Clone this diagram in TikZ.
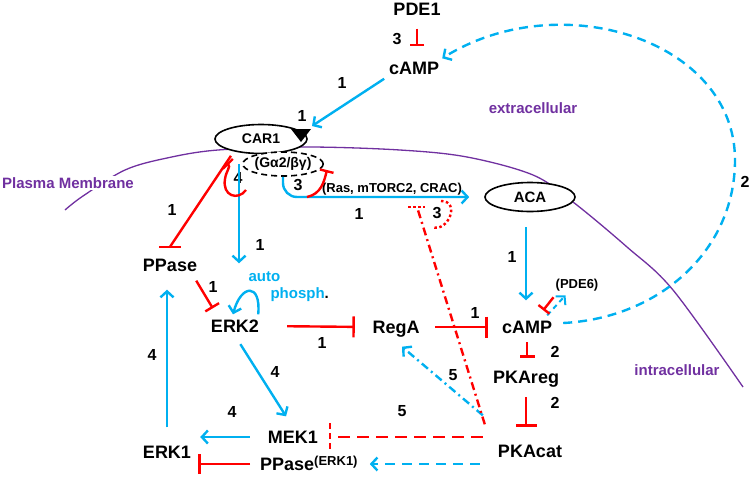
\documentclass[tikz,border=0pt]{standalone}
\usepackage{fontspec}
\setmainfont{Liberation Sans}
\usetikzlibrary{arrows.meta,shapes.geometric}

\definecolor{sigblue}{RGB}{0,176,240}
\definecolor{inhred}{RGB}{255,0,0}
\definecolor{memb}{RGB}{112,48,160}

\tikzset{
  mol/.style={font=\fontsize{18}{18}\selectfont\bfseries, text height=13pt, text depth=0pt, inner sep=3pt},
  num/.style={font=\fontsize{16}{16}\selectfont\bfseries, inner sep=0pt},
  small/.style={font=\fontsize{13}{13}\selectfont\bfseries, inner sep=1pt},
  rec/.style={draw, ellipse, line width=1.6pt, fill=white, inner sep=0pt},
  memtext/.style={memb, font=\fontsize{15}{15}\selectfont\bfseries},
  act/.style={draw=sigblue, line width=2.4pt, -{Straight Barb[length=6pt,width=13pt]}},
  inhline/.style={draw=inhred, line width=2.4pt},
  inh/.style={inhline, -{Bar[width=#1]}},
  inh/.default=16pt,
  bigdash/.style={dash pattern=on 9pt off 6pt},
  reddash/.style={dash pattern=on 12pt off 7pt},
  dashdot/.style={dash pattern=on 8pt off 4pt on 2pt off 4pt},
  dotline/.style={inhline, dash pattern=on 2.5pt off 2.5pt}
}

\begin{document}
\begin{tikzpicture}[x=1pt,y=-1pt]
\useasboundingbox (0,0) rectangle (754,477);

% plasma membrane
\draw[memb, line width=1.3pt] plot[smooth, tension=0.55] coordinates
  {(65,210) (83,196) (125,170) (167,158) (218,150) (307,147) (400,150)
   (467,157) (533,175) (573,202) (627,247) (673,290) (743,387)};
\node[memtext, fill=white, inner sep=1pt] (pm) at (68,183) {Plasma Membrane};
\node[memtext] (extra) at (533,108) {extracellular};
\node[memtext] (intra) at (677,370) {intracellular};

% receptor and enzymes at the membrane
\node[rec, minimum width=92pt, minimum height=29pt, font=\fontsize{14}{14}\selectfont\bfseries] (car1) at (261,139) {CAR1};
\node[rec, dash pattern=on 6pt off 4pt, minimum width=64pt, minimum height=24pt, font=\fontsize{14}{14}\selectfont\bfseries] (gprot) at (283,164) {(Gα2/βγ)};
\node[rec, minimum width=90pt, minimum height=29pt, font=\fontsize{15}{15}\selectfont\bfseries] (aca) at (530,197) {ACA};
\fill (291,129) -- (311,129) -- (301,142) -- cycle;
\coordinate (tri) at (312,126);

% molecules
\node[mol] (pde1)   at (417,9)   {PDE1};
\node[mol] (campex) at (414,68)  {cAMP};
\node[mol] (ppase)  at (170,265) {PPase};
\node[mol] (erk2)   at (235,326) {ERK2};
\node[mol] (rega)   at (396,327) {RegA};
\node[mol] (campin) at (527,327) {cAMP};
\node[mol] (pkareg) at (526,377) {PKAreg};
\node[mol] (pkacat) at (530,451) {PKAcat};
\node[mol] (mek1)   at (293,437) {MEK1};
\node[mol] (erk1)   at (167,452) {ERK1};
\node[mol, anchor=west] (ppaseb) at (257,464) {PPase\raisebox{5pt}{\fontsize{13}{13}\selectfont(ERK1)}};
\node[small] (ras)  at (392,189) {(Ras, mTORC2, CRAC)};
\node[small] (pde6) at (577,285) {(PDE6)};
\node[memtext, sigblue, anchor=west] (auto) at (245,277) {auto};
\node[memtext, sigblue, anchor=west] (phos) at (267,295) {phosph\textcolor{black}{.}};

% numbers
\node[num] at (397,39)  {3};
\node[num] at (342,83)  {1};
\node[num] at (302,116) {1};
\node[num] (n4)  at (238,178) {4};
\node[num] (n3a) at (298,185) {3};
\node[num] at (359,214) {1};
\node[num] at (172,210) {1};
\node[num] at (260,245) {1};
\node[num] at (213,287) {1};
\node[num] at (322,343) {1};
\node[num] at (475,313) {1};
\node[num] at (512,257) {1};
\node[num] at (745,182) {2};
\node[num] at (555,352) {2};
\node[num] at (555,403) {2};
\node[num] at (453,375) {5};
\node[num] at (402,411) {5};
\node[num] at (275,372) {4};
\node[num] at (232,412) {4};
\node[num] at (152,355) {4};
\node[num] (n3b) at (437,213) {3};

% activation
\draw[act, shorten <=2pt] (campex.south west) -- (tri);
\draw[act, shorten >=53pt] ([xshift=-3pt]gprot.west) -- ([xshift=-3pt]gprot.west |- erk2.north);
\draw[act, rounded corners=14pt, shorten >=15pt] (gprot.south) |- (aca.west);
\draw[act, shorten <=15pt, shorten >=17pt] ([xshift=-4pt]aca.south) -- ([xshift=-4pt]aca.south |- campin.north);
\draw[act] ([shift={(-4,-2)}]erk2.north east) .. controls +(3,-32) and +(8,-30) .. ([shift={(-2,-2)}]erk2.north);
\draw[act, shorten <=10pt, shorten >=13pt] (erk2.south) -- (mek1.north);
\draw[act, shorten <=15pt, shorten >=6pt] (mek1.west) -- (mek1.west -| erk1.east);
\draw[act, shorten <=15pt, shorten >=15pt] (erk1.north) -- (erk1.north |- ppase.south);
\draw[act, dash pattern=on 10pt off 7pt, shorten <=15pt, shorten >=9pt] (pkacat.west |- ppaseb.east) -- (ppaseb.east);
\draw[act, dashdot] ([shift={(-12,-26)}]pkacat.north west) -- ([shift={(6,10)}]rega.south);
\draw[act, line width=2pt, dash pattern=on 5pt off 4pt] ([shift={(-8,-2)}]campin.north east) -- ([shift={(11,3)}]pde6.south west);
\draw[act, bigdash] ([shift={(8,-4)}]campin.east) .. controls (660,318) and (735,250) .. (735,160)
  .. controls (735,40) and (560,-15) .. (campex.north east);

% inhibition
\draw[inh=14pt, shorten <=10pt, shorten >=12pt] (pde1.south) -- (pde1.south |- campex.north);
\coordinate (ppbar) at ([yshift=8.5pt]ppase.north);
\draw[inhline] ([shift={(3,6)}]car1.south west) -- (ppbar);
\draw[inhline] ([xshift=-11pt]ppbar) -- ([xshift=11pt]ppbar);
\coordinate (r4a) at (246,190);
\draw[inh=14pt] (r4a) .. controls (238,201) and (222,196) .. (225,179)
  .. controls (226,171) and (231,167) .. ([shift={(-15,-1)}]gprot.west);
\coordinate (r3a) at (307,197);
\draw[inh=14pt] (r3a) .. controls (321,194) and (324,182) .. ([shift={(3,6)}]gprot.east);
\draw[inh] ([shift={(-4,6)}]ppase.south east) -- ([shift={(5,-8)}]erk2.north west);
\draw[inh=21pt, shorten <=25pt, shorten >=14.5pt] (erk2.east) -- (rega.west);
\draw[inh=21pt, shorten <=12.5pt, shorten >=11pt] (rega.east) -- (campin.west);
\draw[inh=14pt] ([shift={(-1,5)}]pde6.south west) -- ([shift={(-12,-7)}]campin.north east);
\draw[inh=15pt, shorten <=5.5pt, shorten >=9.5pt] (campin.south) -- (campin.south |- pkareg.north);
\draw[inh=21pt, shorten <=10.5pt, shorten >=14.5pt] (pkareg.south) -- (pkareg.south |- pkacat.north);
\draw[inh=20pt, shorten <=7pt, shorten >=4pt] (ppaseb.west) -- (ppaseb.west -| erk1.east);
\coordinate (mekbar) at ([xshift=9pt]mek1.east);
\draw[inhline, reddash, shorten <=12pt] (pkacat.west |- mek1.east) -- (mekbar);
\draw[inhline, dash pattern=on 6pt off 4pt] ([yshift=14pt]mekbar) -- ([yshift=-14pt]mekbar);
\coordinate (rasbar) at (417,207);
\draw[inhline, dashdot] ([shift={(-10,-17)}]pkacat.north west) -- (rasbar);
\draw[dotline] ([xshift=-9pt]rasbar) -- ([xshift=8pt]rasbar);
\draw[dotline] ([shift={(4,-12)}]n3b.center) .. controls +(20,0) and +(16,6) .. ([shift={(-5,14)}]n3b.center);
\end{tikzpicture}
\end{document}
